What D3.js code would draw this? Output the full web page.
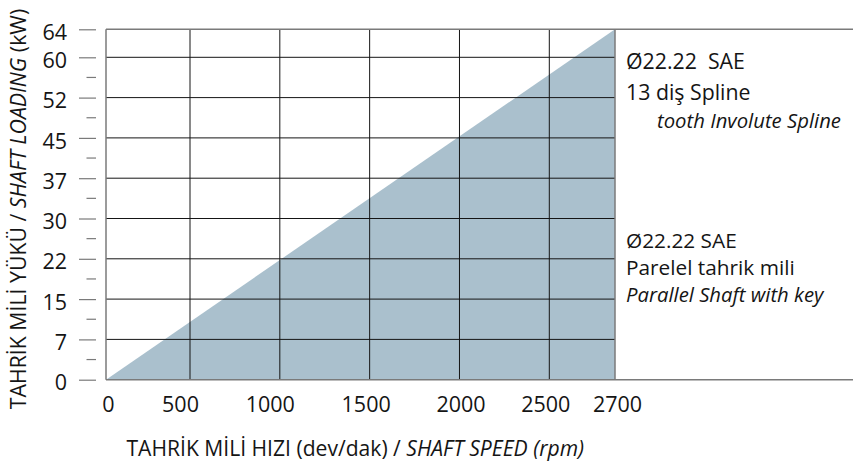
<!DOCTYPE html>
<html><head><meta charset="utf-8">
<script src="https://cdn.jsdelivr.net/npm/d3@7"></script>
<style>
html,body{margin:0;padding:0;background:#fff;}
svg{display:block;font-family:"Open Sans",sans-serif;}
text{white-space:pre;}
</style></head>
<body><svg id="c" width="853" height="464"></svg>
<script>
// ---- data ----
const speedTicks = [0, 500, 1000, 1500, 2000, 2500, 2700];        // rpm
const loadTicks = [0, 7, 15, 22, 30, 37, 45, 52, 60, 64];          // kW
const envelopeSpeed = [0, 2700, 2700];
const envelopeLoad = [0, 64, 0];
const xTitle = ["TAHRİK MİLİ HIZI (dev/dak) / ", "SHAFT SPEED (rpm)"];
const yTitle = ["TAHRİK MİLİ YÜKÜ / ", "SHAFT LOADING", " (kW)"];
const note1 = ["Ø22.22  SAE", "13 diş Spline", "tooth Involute Spline"];
const note2 = ["Ø22.22 SAE", "Parelel tahrik mili", "Parallel Shaft with key"];

(function () {
// ---- layout ----
const svg = d3.select("#c");
const pL = 106, pR = 615, pT = 29.3, pB = 379.7, step = 40.3;
const x = d3.scaleLinear().domain([0, 500, 2500, 2700]).range([pL, 190, 549.3, pR]);
const yRange = loadTicks.map((d, i) => i < 9 ? pB - i * step : pT);
const y = d3.scaleLinear().domain(loadTicks).range(yRange);
const xLabelShift = [2, -10, -10, -4, 1, -4, 2];

const ink = "#151515", frame = "#7a7a7a";

// envelope fill
const pts = envelopeSpeed.map((s, i) => [x(s), y(envelopeLoad[i])]);
svg.append("path").attr("d", d3.line()(pts) + "Z").attr("fill", "#aac0cd");

// grid
const g = svg.append("g");
g.selectAll(".vg").data(speedTicks.slice(1, -1)).join("line")
  .attr("x1", d => x(d)).attr("x2", d => x(d)).attr("y1", pT).attr("y2", pB)
  .attr("stroke", ink).attr("stroke-width", 1);
g.selectAll(".hg").data(loadTicks.slice(1, -1)).join("line")
  .attr("x1", pL).attr("x2", pR).attr("y1", d => y(d)).attr("y2", d => y(d))
  .attr("stroke", ink).attr("stroke-width", 1);

// frame
svg.append("line").attr("x1", pL).attr("x2", 853).attr("y1", pT).attr("y2", pT).attr("stroke", frame).attr("stroke-width", 1.5);
svg.append("line").attr("x1", pL).attr("x2", 853).attr("y1", pB).attr("y2", pB).attr("stroke", frame).attr("stroke-width", 1.5);
svg.append("line").attr("x1", pL).attr("x2", pL).attr("y1", pT).attr("y2", pB).attr("stroke", frame).attr("stroke-width", 1.5);
svg.append("line").attr("x1", pR).attr("x2", pR).attr("y1", pT).attr("y2", pB).attr("stroke", frame).attr("stroke-width", 1.5);

// y axis ticks
const yAxis = d3.axisLeft(y).tickValues(loadTicks).tickSize(17).tickPadding(12).tickFormat(d3.format("d"));
const ya = svg.append("g").attr("transform", "translate(96,0)").call(yAxis);
ya.select(".domain").remove();
ya.selectAll(".tick line").attr("stroke", frame).attr("stroke-width", 1.2);
ya.selectAll(".tick text").attr("font-size", 21.5).attr("fill", ink)
  .attr("font-family", "Open Sans").attr("dy", "0.47em");
// minor ticks
const minor = d3.pairs(loadTicks.slice(0, 9)).map(p => (p[0] + p[1]) / 2);
svg.selectAll(".mt").data(minor).join("line")
  .attr("x1", 86.5).attr("x2", 96).attr("y1", d => y(d)).attr("y2", d => y(d))
  .attr("stroke", frame).attr("stroke-width", 1.2);

// x axis labels
const xAxis = d3.axisBottom(x).tickValues(speedTicks).tickSize(0).tickPadding(17).tickFormat(d3.format("d"));
const xa = svg.append("g").attr("transform", `translate(0,${pB})`).call(xAxis);
xa.select(".domain").remove();
xa.selectAll(".tick text").attr("font-size", 21.5).attr("fill", ink)
  .attr("font-family", "Open Sans").attr("dx", (d, i) => xLabelShift[i]);

// axis titles
const xt = svg.append("text").attr("x", 126.5).attr("y", 456).attr("font-size", 21.1).attr("fill", ink);
xt.append("tspan").text(xTitle[0]);
xt.append("tspan").attr("font-style", "italic").text(xTitle[1]);

const yt = svg.append("text").attr("transform", "translate(25.5,209) rotate(-90)")
  .attr("text-anchor", "middle").attr("font-size", 21.3).attr("fill", ink);
yt.append("tspan").text(yTitle[0]);
yt.append("tspan").attr("font-style", "italic").text(yTitle[1]);
yt.append("tspan").text(yTitle[2]);

// notes
function note(lines, ys, xs, fs) {
  lines.forEach((t, i) => {
    svg.append("text").attr("x", xs[i]).attr("y", ys[i])
      .attr("font-size", i === 2 ? 20.3 : fs)
      .attr("fill", ink).attr("font-style", i === 2 ? "italic" : "normal").text(t);
  });
}
note(note1, [69.3, 99.5, 127.5], [626, 626, 657], 21.3);
note(note2, [248.3, 275.3, 302.3], [626, 626, 626], 20.8);
})();
</script></body></html>
